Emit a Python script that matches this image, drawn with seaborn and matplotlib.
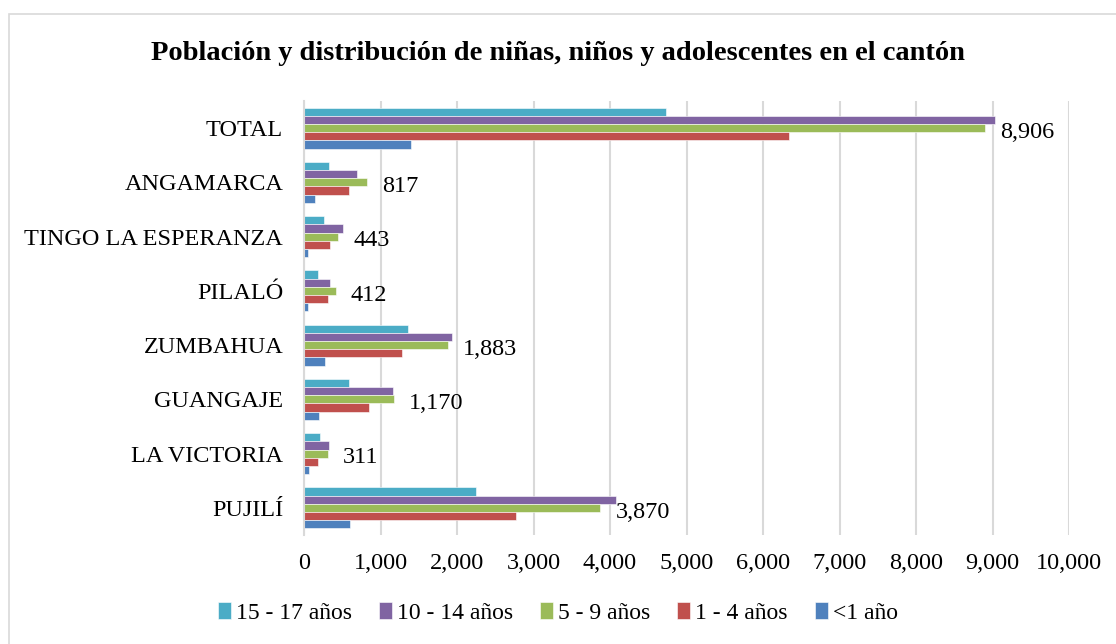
import matplotlib
matplotlib.use("Agg")
import matplotlib.pyplot as plt
import seaborn as sns
import pandas as pd
from matplotlib.patches import Rectangle
from matplotlib.ticker import FuncFormatter

categories = ["TOTAL", "ANGAMARCA", "TINGO LA ESPERANZA", "PILALÓ",
              "ZUMBAHUA", "GUANGAJE", "LA VICTORIA", "PUJILÍ"]
series_names = ["15 - 17 años", "10 - 14 años", "5 - 9 años", "1 - 4 años", "<1 año"]
v_15_17 = [4730, 323, 265, 187, 1360, 588, 205, 2248]
v_10_14 = [9030, 690, 506, 340, 1939, 1159, 323, 4078]
v_5_9 = [8906, 817, 443, 412, 1883, 1170, 311, 3870]
v_1_4 = [6334, 592, 340, 318, 1281, 845, 183, 2775]
v_lt1 = [1400, 148, 52, 52, 275, 196, 65, 605]
colors = ["#4BACC6", "#8064A2", "#9BBB59", "#C0504D", "#4F81BD"]
x_ticks = [0, 1000, 2000, 3000, 4000, 5000, 6000, 7000, 8000, 9000, 10000]

rows = []
for name, vals in zip(series_names, [v_15_17, v_10_14, v_5_9, v_1_4, v_lt1]):
    for c, v in zip(categories, vals):
        rows.append({"cat": c, "serie": name, "val": v})
df = pd.DataFrame(rows)

sns.set_theme(style="white")
plt.rcParams["font.family"] = ["Liberation Serif", "DejaVu Serif"]
plt.rcParams["text.color"] = "black"

fig = plt.figure(figsize=(11.16, 6.44), dpi=100)
ax = fig.add_axes([304/1116, 1-535/644, (1069-304)/1116, (535-101)/644])

sns.barplot(data=df, y="cat", x="val", hue="serie", order=categories,
            hue_order=series_names, palette=colors, orient="h", ax=ax,
            width=0.76, saturation=1, legend=True, errorbar=None,
            edgecolor="white", linewidth=0.4)

ax.set_xlim(0, 10000)
ax.set_xticks(x_ticks)
ax.xaxis.set_major_formatter(FuncFormatter(lambda v, p: f"{int(v):,}"))
ax.grid(axis="x", color="#d9d9d9", linewidth=1.5)
ax.set_axisbelow(True)
for s in ["top", "right", "bottom"]:
    ax.spines[s].set_visible(False)
ax.spines["left"].set_color("#d9d9d9")
ax.spines["left"].set_linewidth(1.5)
ax.tick_params(axis="both", length=0, labelsize=17.5, colors="black")
ax.tick_params(axis="y", pad=15)
ax.tick_params(axis="x", pad=13)
ax.set_xlabel("")
ax.set_ylabel("")

# data labels on the 5-9 series
green_container = ax.containers[2]
texts = ax.bar_label(green_container, labels=[f"{v:,}" for v in v_5_9], padding=11,
                     fontsize=17.5, color="black")
for t in texts:
    t.xyann = (11, -3)

handles, labels = ax.get_legend_handles_labels()
ax.legend_.remove()
fig.legend(handles, labels, loc="center", bbox_to_anchor=(0.5, 1-613/644),
           ncol=5, frameon=False, fontsize=17, handlelength=0.55,
           handleheight=0.75, handletextpad=0.2, columnspacing=1.15)

fig.text(0.5, 1-53/644, "Población y distribución de niñas, niños y adolescentes en el cantón",
         ha="center", va="center", fontsize=20.5, fontweight="bold", color="black")

fig.add_artist(Rectangle((9/1116, -0.1), 1.2, 1-14/644+0.1, transform=fig.transFigure,
                         fill=False, edgecolor="#d9d9d9", linewidth=1.2, clip_on=False))

fig.savefig("out.png", dpi=100)
